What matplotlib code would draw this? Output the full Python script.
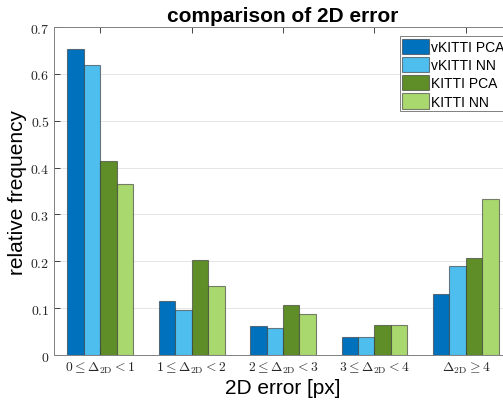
import matplotlib
matplotlib.use("Agg")
import matplotlib.pyplot as plt
import numpy as np

plt.rcParams['mathtext.fontset'] = 'cm'

categories = [r'$0 \leq \Delta_{\mathrm{2D}} < 1$', r'$1 \leq \Delta_{\mathrm{2D}} < 2$',
              r'$2 \leq \Delta_{\mathrm{2D}} < 3$', r'$3 \leq \Delta_{\mathrm{2D}} < 4$',
              r'$\Delta_{\mathrm{2D}} \geq 4$']
series_names = ['vKITTI PCA', 'vKITTI NN', 'KITTI PCA', 'KITTI NN']
vkitti_pca = [0.653, 0.115, 0.061, 0.039, 0.130]
vkitti_nn = [0.618, 0.095, 0.057, 0.039, 0.190]
kitti_pca = [0.415, 0.202, 0.107, 0.065, 0.208]
kitti_nn = [0.365, 0.148, 0.088, 0.063, 0.333]
colors = ['#0072BD', '#4DBEEE', '#5F8E28', '#A9D86E']
yticks = [0, 0.1, 0.2, 0.3, 0.4, 0.5, 0.6, 0.7]

fig = plt.figure(figsize=(5.03, 4.02), dpi=100)
ax = fig.add_axes([0.1083, 0.1144, 0.9087, 0.8159])

x = np.arange(1, len(categories) + 1)
w = 0.18
for i, (vals, name, c) in enumerate(zip([vkitti_pca, vkitti_nn, kitti_pca, kitti_nn], series_names, colors)):
    ax.bar(x + (i - 1.5) * w, vals, width=w, color=c, edgecolor=(0.2, 0.2, 0.2, 0.6),
           linewidth=0.8, label=name, zorder=3)

ax.set_xlim(0.5, 5.5)
ax.set_ylim(0, 0.7)
ax.set_xticks(x)
ax.set_xticklabels(categories, fontsize=9.8)
ax.set_yticks(yticks)
ax.set_yticklabels(['$0$'] + [f'${v:.1f}$' for v in yticks[1:]], fontsize=10)
ax.tick_params(direction='in', top=True, right=True, length=4, width=0.6, colors='#262626')
ax.grid(axis='y', color='#e6e6e6', linewidth=0.7, zorder=0)
for s in ax.spines.values():
    s.set_color('#808080')
    s.set_linewidth(0.7)

ax.set_title('comparison of 2D error', fontsize=15, fontweight='bold', family='Liberation Sans', pad=4)
ax.set_xlabel('2D error [px]', fontsize=15, family='Liberation Sans', labelpad=2)
ax.set_ylabel('relative frequency', fontsize=15, family='Liberation Sans', labelpad=2)

leg = ax.legend(loc='upper right', bbox_to_anchor=(0.99, 0.973),
                prop={'family': 'Liberation Sans', 'size': 10},
                frameon=True, fancybox=False, edgecolor='#808080', framealpha=1,
                handlelength=1.9, handleheight=1.3, handletextpad=0.15, labelspacing=0.22,
                borderpad=0.2, borderaxespad=0)
leg.get_frame().set_linewidth(0.7)

fig.savefig('out.png', dpi=100)
